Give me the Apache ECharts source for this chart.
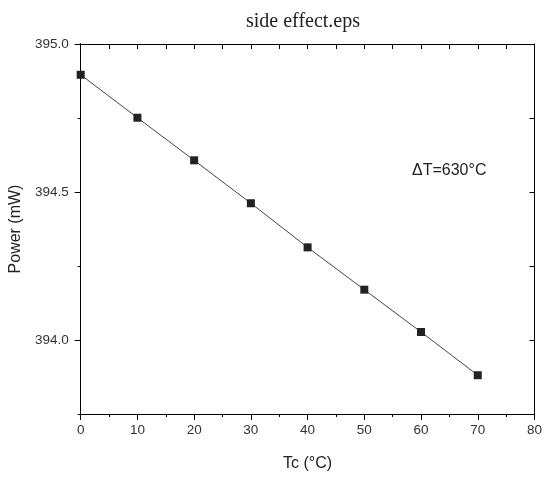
<!DOCTYPE html>
<html>
<head>
<meta charset="utf-8">
<script src="https://cdn.jsdelivr.net/npm/echarts@6/dist/echarts.min.js"></script>
<style>
  html, body { margin: 0; padding: 0; background: #fff; }
  #chart { width: 545px; height: 477px; }
</style>
</head>
<body>
<div id="chart"></div>
<script>
// temperature of cold side (°C) and measured power (mW)
var tc = [0, 10, 20, 30, 40, 50, 60, 70]
var power = [394.896, 394.751, 394.607, 394.462, 394.313, 394.170, 394.027, 393.881]
var yMajorTicks = [394.0, 394.5, 395.0]
var yMinorTicks = [393.75, 394.25, 394.75]
var yAllTicks = [393.75, 394.0, 394.25, 394.5, 394.75, 395.0]

var chart = echarts.init(document.getElementById('chart'))

var points = []
for (var i = 0; i < tc.length; i++) {
  points.push([tc[i], power[i]])
}

var labelFont = 'Liberation Sans, Arial, sans-serif'
var axisLine = { show: true, onZero: false, lineStyle: { color: '#000', width: 1 } }

chart.setOption({
  animation: false,
  title: {
    text: 'side effect.eps',
    left: 298,
    textAlign: 'center',
    top: 7,
    textStyle: { fontFamily: 'Liberation Serif, DejaVu Serif, serif', fontWeight: 'normal', fontSize: 20, color: '#222' }
  },
  grid: { left: 79, right: 6, top: 44, bottom: 61 },
  graphic: [{
    type: 'text',
    left: 412,
    top: 163,
    style: { text: 'ΔT=630°C', font: '16px Liberation Sans, Arial, sans-serif', fill: '#222' }
  }],
  xAxis: [
    {
      type: 'value',
      position: 'bottom',
      min: 0,
      max: 80,
      interval: 10,
      name: 'Tc (°C)',
      nameLocation: 'middle',
      nameGap: 42,
      nameTextStyle: { fontFamily: labelFont, fontSize: 16, color: '#222' },
      axisLine: axisLine,
      axisTick: { show: true, inside: false, length: 6, lineStyle: { color: '#000' } },
      minorTick: { show: true, splitNumber: 2, length: 3, lineStyle: { color: '#000' } },
      axisLabel: { fontFamily: labelFont, fontSize: 13.5, color: '#333', margin: 9 },
      splitLine: { show: false }
    },
    {
      type: 'value',
      position: 'top',
      min: 0,
      max: 80,
      interval: 10,
      axisLine: axisLine,
      axisTick: { show: true, inside: true, length: 5, lineStyle: { color: '#000' } },
      minorTick: { show: true, splitNumber: 2, length: 5, lineStyle: { color: '#000' } },
      axisLabel: { show: false },
      splitLine: { show: false }
    }
  ],
  yAxis: [
    {
      type: 'value',
      position: 'left',
      min: 393.75,
      max: 395.0,
      name: 'Power (mW)',
      nameLocation: 'middle',
      nameGap: 55,
      nameTextStyle: { fontFamily: labelFont, fontSize: 16, color: '#222' },
      axisLine: axisLine,
      axisTick: { show: true, inside: false, length: 6, customValues: yMajorTicks, lineStyle: { color: '#000' } },
      axisLabel: {
        fontFamily: labelFont, fontSize: 13.5, color: '#333', margin: 12,
        customValues: yMajorTicks,
        formatter: function(v) { return v.toFixed(1) }
      },
      splitLine: { show: false }
    },
    {
      type: 'value',
      position: 'left',
      min: 393.75,
      max: 395.0,
      axisLine: axisLine,
      axisTick: { show: true, inside: false, length: 3, customValues: yMinorTicks, lineStyle: { color: '#000' } },
      axisLabel: { show: false },
      splitLine: { show: false }
    },
    {
      type: 'value',
      position: 'right',
      min: 393.75,
      max: 395.0,
      axisLine: axisLine,
      axisTick: { show: true, inside: true, length: 5, customValues: yAllTicks, lineStyle: { color: '#000' } },
      axisLabel: { show: false },
      splitLine: { show: false }
    }
  ],
  series: [{
    type: 'line',
    xAxisIndex: 0,
    yAxisIndex: 0,
    data: points,
    symbol: 'rect',
    symbolSize: 8,
    clip: true,
    lineStyle: { color: '#444', width: 1 },
    itemStyle: { color: '#222' }
  }]
})
</script>
</body>
</html>
